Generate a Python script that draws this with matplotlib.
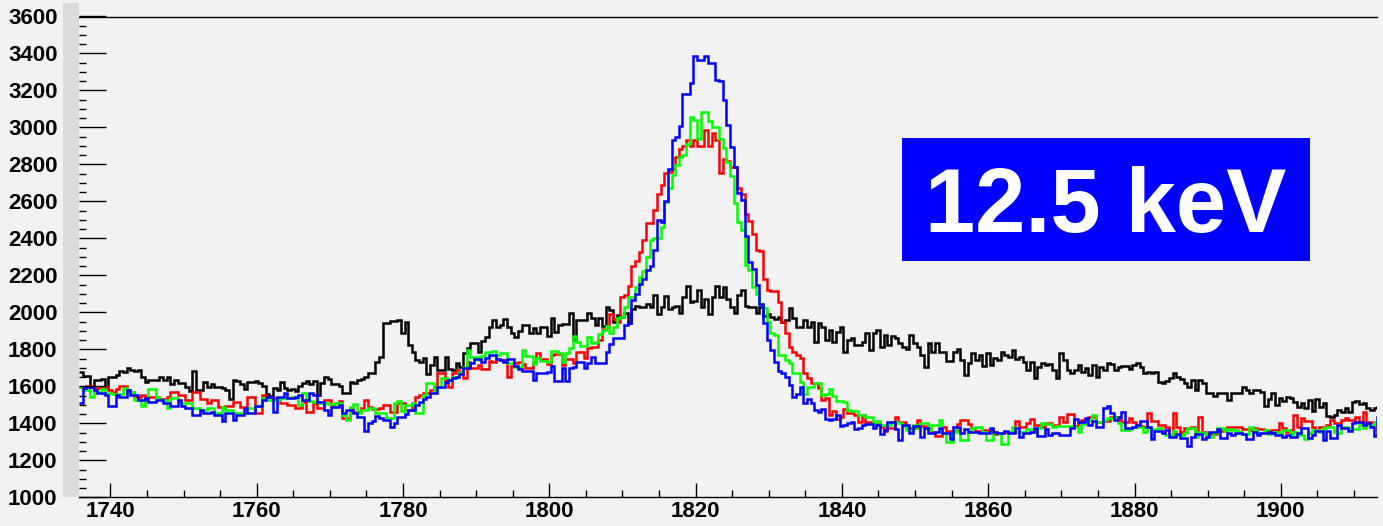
import numpy as np
import matplotlib
matplotlib.use("Agg")
import matplotlib.pyplot as plt
from matplotlib.patches import Rectangle

# ---------------- data ----------------
x_start = 1735.71
bin_width = 0.5
x_limits = (1735.71, 1913.15)
y_limits = (1000, 3600)
x_ticks = [1740, 1760, 1780, 1800, 1820, 1840, 1860, 1880, 1900]
y_ticks = [1000, 1200, 1400, 1600, 1800, 2000, 2200, 2400, 2600, 2800, 3000, 3200, 3400, 3600]
label_text = "12.5 keV"

black = [
    1679, 1656, 1656, 1598, 1634, 1634, 1640, 1594, 1648, 1648,
    1660, 1683, 1675, 1701, 1690, 1683, 1690, 1648, 1625, 1637,
    1634, 1634, 1648, 1634, 1650, 1612, 1634, 1616, 1616, 1594,
    1576, 1683, 1580, 1580, 1625, 1594, 1612, 1598, 1594, 1590,
    1580, 1531, 1634, 1630, 1612, 1585, 1625, 1625, 1630, 1616,
    1600, 1560, 1549, 1590, 1580, 1625, 1590, 1580, 1585, 1576,
    1600, 1616, 1630, 1610, 1630, 1553, 1616, 1648, 1638, 1612,
    1612, 1600, 1562, 1562, 1625, 1616, 1634, 1640, 1652, 1674,
    1674, 1733, 1760, 1940, 1940, 1951, 1951, 1958, 1886, 1949,
    1823, 1787, 1742, 1733, 1751, 1666, 1715, 1760, 1688, 1688,
    1760, 1692, 1688, 1728, 1702, 1782, 1805, 1832, 1832, 1787,
    1847, 1868, 1922, 1958, 1922, 1930, 1962, 1922, 1890, 1868,
    1901, 1931, 1931, 1886, 1918, 1890, 1922, 1922, 1872, 1967,
    1895, 1931, 1936, 1936, 1994, 1850, 1958, 1958, 1958, 1994,
    1967, 1931, 1967, 1926, 2030, 2012, 1949, 1985, 1976, 1994,
    1940, 2016, 2034, 2030, 2030, 2044, 2030, 2093, 1990, 2030,
    2088, 2016, 2030, 2034, 1994, 2084, 2142, 2057, 2062, 2120,
    2030, 2075, 1990, 2084, 2142, 2084, 2138, 2075, 2030, 1994,
    2093, 2120, 2034, 2030, 2030, 1994, 2030, 1980, 1990, 1976,
    1962, 1976, 1949, 1958, 2021, 1967, 1922, 1922, 1958, 1922,
    1949, 1841, 1940, 1922, 1850, 1904, 1841, 1895, 1922, 1787,
    1850, 1859, 1823, 1823, 1841, 1886, 1796, 1886, 1904, 1814,
    1877, 1823, 1872, 1859, 1832, 1811, 1800, 1877, 1832, 1814,
    1769, 1706, 1832, 1787, 1832, 1787, 1787, 1738, 1738, 1787,
    1800, 1742, 1661, 1724, 1778, 1742, 1769, 1710, 1778, 1715,
    1751, 1742, 1787, 1769, 1760, 1796, 1746, 1757, 1733, 1688,
    1733, 1643, 1706, 1724, 1715, 1720, 1688, 1643, 1782, 1742,
    1688, 1670, 1688, 1715, 1679, 1697, 1661, 1715, 1652, 1706,
    1688, 1728, 1720, 1688, 1706, 1710, 1710, 1692, 1715, 1728,
    1706, 1674, 1679, 1670, 1679, 1625, 1616, 1630, 1643, 1670,
    1648, 1638, 1620, 1598, 1634, 1580, 1634, 1616, 1566, 1562,
    1548, 1562, 1562, 1566, 1526, 1562, 1566, 1566, 1598, 1580,
    1562, 1580, 1580, 1571, 1494, 1530, 1562, 1499, 1535, 1522,
    1540, 1535, 1517, 1490, 1508, 1481, 1526, 1468, 1530, 1490,
    1508, 1439, 1432, 1445, 1472, 1463, 1481, 1463, 1517, 1522,
    1504, 1508, 1481, 1472, 1481, 1490,
]

red = [
    1594, 1594, 1602, 1602, 1589, 1589, 1594, 1594, 1580, 1570,
    1585, 1602, 1600, 1580, 1570, 1544, 1544, 1553, 1544, 1540,
    1544, 1544, 1530, 1530, 1544, 1571, 1571, 1553, 1553, 1526,
    1526, 1571, 1571, 1530, 1530, 1508, 1526, 1526, 1490, 1490,
    1493, 1493, 1517, 1517, 1490, 1490, 1540, 1540, 1454, 1454,
    1553, 1544, 1544, 1535, 1530, 1508, 1508, 1497, 1497, 1481,
    1481, 1517, 1463, 1463, 1508, 1481, 1481, 1526, 1526, 1499,
    1510, 1520, 1427, 1427, 1481, 1463, 1463, 1481, 1526, 1490,
    1475, 1475, 1485, 1499, 1499, 1463, 1463, 1508, 1508, 1472,
    1472, 1508, 1544, 1553, 1562, 1562, 1580, 1594, 1674, 1674,
    1634, 1594, 1674, 1688, 1680, 1643, 1733, 1697, 1697, 1715,
    1692, 1692, 1738, 1733, 1746, 1742, 1742, 1652, 1710, 1724,
    1733, 1720, 1697, 1697, 1733, 1783, 1747, 1747, 1720, 1769,
    1773, 1773, 1715, 1746, 1746, 1728, 1787, 1787, 1751, 1805,
    1814, 1814, 1850, 1908, 1922, 1990, 1962, 1949, 2084, 2093,
    2142, 2250, 2279, 2327, 2394, 2484, 2484, 2556, 2639, 2688,
    2755, 2760, 2778, 2841, 2886, 2899, 2931, 2899, 2931, 2899,
    2899, 2985, 2899, 2971, 2931, 2755, 2827, 2820, 2787, 2787,
    2670, 2639, 2531, 2495, 2426, 2337, 2333, 2178, 2120, 2117,
    2117, 2057, 1949, 1886, 1814, 1787, 1769, 1751, 1673, 1643,
    1616, 1616, 1589, 1526, 1535, 1445, 1468, 1421, 1436, 1475,
    1454, 1454, 1445, 1409, 1445, 1409, 1409, 1400, 1396, 1382,
    1360, 1373, 1373, 1436, 1409, 1409, 1382, 1373, 1373, 1418,
    1386, 1386, 1373, 1355, 1331, 1331, 1382, 1360, 1360, 1360,
    1396, 1418, 1418, 1396, 1373, 1360, 1360, 1364, 1364, 1364,
    1342, 1349, 1349, 1355, 1355, 1355, 1414, 1382, 1382, 1403,
    1421, 1391, 1391, 1382, 1400, 1400, 1391, 1391, 1436, 1409,
    1450, 1450, 1386, 1403, 1418, 1418, 1432, 1432, 1409, 1409,
    1414, 1414, 1436, 1436, 1421, 1409, 1409, 1427, 1409, 1385,
    1385, 1382, 1457, 1414, 1414, 1391, 1391, 1378, 1337, 1457,
    1378, 1355, 1373, 1373, 1378, 1342, 1432, 1355, 1342, 1342,
    1342, 1360, 1360, 1367, 1378, 1382, 1382, 1378, 1367, 1367,
    1364, 1373, 1367, 1367, 1364, 1355, 1364, 1364, 1403, 1373,
    1355, 1364, 1445, 1378, 1427, 1414, 1414, 1378, 1364, 1378,
    1378, 1391, 1418, 1400, 1400, 1418, 1427, 1418, 1418, 1432,
    1409, 1463, 1409, 1409, 1403, 1403,
]

green = [
    1594, 1580, 1580, 1544, 1571, 1571, 1584, 1562, 1562, 1558,
    1558, 1558, 1589, 1571, 1571, 1526, 1526, 1493, 1526, 1584,
    1584, 1540, 1526, 1526, 1481, 1535, 1535, 1526, 1511, 1511,
    1511, 1481, 1481, 1472, 1472, 1481, 1481, 1454, 1454, 1490,
    1472, 1472, 1454, 1454, 1454, 1454, 1481, 1481, 1493, 1493,
    1535, 1526, 1526, 1526, 1526, 1535, 1535, 1535, 1544, 1544,
    1500, 1562, 1530, 1522, 1517, 1517, 1508, 1508, 1504, 1504,
    1512, 1512, 1445, 1418, 1490, 1504, 1458, 1472, 1472, 1481,
    1481, 1454, 1458, 1458, 1427, 1427, 1508, 1522, 1468, 1499,
    1499, 1512, 1458, 1458, 1553, 1616, 1616, 1576, 1598, 1643,
    1643, 1634, 1652, 1652, 1680, 1702, 1796, 1760, 1760, 1745,
    1764, 1787, 1787, 1792, 1770, 1782, 1782, 1724, 1724, 1706,
    1702, 1796, 1764, 1764, 1720, 1751, 1738, 1738, 1733, 1790,
    1790, 1781, 1733, 1781, 1805, 1872, 1841, 1818, 1818, 1868,
    1832, 1841, 1882, 1904, 1926, 1890, 1922, 1967, 1976, 2030,
    2084, 2084, 2138, 2189, 2225, 2300, 2394, 2400, 2400, 2463,
    2598, 2675, 2742, 2796, 2841, 2850, 2913, 3057, 3043, 2940,
    3084, 3084, 3036, 3003, 3003, 2940, 2891, 2814, 2737, 2589,
    2490, 2445, 2255, 2228, 2138, 2102, 2048, 2021, 1949, 1886,
    1877, 1769, 1769, 1742, 1727, 1673, 1673, 1625, 1561, 1598,
    1598, 1616, 1619, 1553, 1561, 1583, 1547, 1522, 1522, 1517,
    1472, 1468, 1468, 1445, 1445, 1432, 1432, 1403, 1414, 1391,
    1391, 1391, 1409, 1409, 1403, 1386, 1364, 1364, 1391, 1373,
    1400, 1400, 1364, 1391, 1391, 1418, 1349, 1301, 1301, 1355,
    1373, 1310, 1310, 1355, 1373, 1382, 1382, 1355, 1310, 1310,
    1355, 1346, 1288, 1288, 1355, 1382, 1355, 1355, 1355, 1367,
    1367, 1355, 1373, 1400, 1396, 1396, 1382, 1386, 1386, 1386,
    1386, 1386, 1382, 1355, 1396, 1396, 1418, 1445, 1409, 1409,
    1418, 1427, 1427, 1436, 1400, 1364, 1364, 1367, 1382, 1378,
    1378, 1355, 1378, 1367, 1367, 1373, 1349, 1337, 1337, 1360,
    1337, 1337, 1349, 1373, 1373, 1328, 1355, 1346, 1324, 1324,
    1346, 1373, 1373, 1360, 1367, 1364, 1364, 1355, 1342, 1342,
    1378, 1364, 1349, 1349, 1364, 1342, 1355, 1355, 1342, 1364,
    1364, 1337, 1355, 1337, 1337, 1313, 1346, 1364, 1364, 1355,
    1373, 1378, 1378, 1355, 1349, 1382, 1382, 1373, 1367, 1367,
    1396, 1373, 1391, 1391, 1409, 1409,
]

blue = [
    1508, 1589, 1594, 1594, 1580, 1562, 1562, 1553, 1493, 1493,
    1553, 1544, 1544, 1580, 1553, 1553, 1526, 1526, 1535, 1517,
    1517, 1526, 1526, 1508, 1508, 1493, 1493, 1526, 1493, 1481,
    1481, 1445, 1445, 1472, 1454, 1454, 1463, 1445, 1445, 1414,
    1454, 1454, 1418, 1445, 1445, 1481, 1454, 1454, 1493, 1493,
    1526, 1540, 1540, 1463, 1544, 1544, 1562, 1535, 1535, 1544,
    1553, 1526, 1526, 1562, 1553, 1517, 1517, 1472, 1445, 1490,
    1490, 1499, 1458, 1472, 1472, 1458, 1436, 1436, 1360, 1400,
    1413, 1440, 1430, 1418, 1418, 1382, 1403, 1436, 1436, 1450,
    1472, 1472, 1499, 1517, 1530, 1544, 1562, 1562, 1594, 1594,
    1625, 1634, 1643, 1652, 1666, 1697, 1697, 1728, 1746, 1746,
    1733, 1751, 1770, 1769, 1746, 1742, 1733, 1746, 1746, 1710,
    1692, 1684, 1684, 1684, 1637, 1670, 1670, 1670, 1679, 1710,
    1630, 1630, 1697, 1630, 1697, 1706, 1733, 1733, 1697, 1724,
    1756, 1727, 1727, 1727, 1787, 1828, 1859, 1864, 1864, 1931,
    1944, 2066, 2102, 2156, 2178, 2228, 2250, 2337, 2499, 2490,
    2603, 2778, 2931, 2949, 3007, 3180, 3180, 3241, 3385, 3367,
    3367, 3385, 3351, 3349, 3255, 3252, 3147, 3012, 2895, 2787,
    2643, 2610, 2412, 2273, 2237, 2147, 2048, 1940, 1850, 1796,
    1733, 1684, 1673, 1652, 1607, 1543, 1561, 1594, 1508, 1529,
    1508, 1472, 1463, 1475, 1426, 1417, 1426, 1445, 1385, 1390,
    1403, 1408, 1372, 1373, 1391, 1396, 1396, 1373, 1391, 1342,
    1364, 1409, 1409, 1367, 1310, 1391, 1391, 1346, 1386, 1386,
    1328, 1373, 1349, 1349, 1355, 1373, 1349, 1349, 1313, 1382,
    1382, 1349, 1367, 1355, 1355, 1355, 1349, 1346, 1346, 1373,
    1355, 1346, 1346, 1360, 1349, 1349, 1373, 1328, 1346, 1346,
    1355, 1373, 1331, 1331, 1367, 1337, 1346, 1346, 1337, 1337,
    1337, 1373, 1421, 1409, 1409, 1427, 1391, 1414, 1382, 1382,
    1481, 1493, 1454, 1418, 1432, 1463, 1373, 1373, 1378, 1391,
    1414, 1414, 1378, 1313, 1360, 1360, 1349, 1364, 1328, 1328,
    1342, 1319, 1319, 1277, 1328, 1342, 1342, 1313, 1328, 1355,
    1355, 1367, 1319, 1319, 1346, 1337, 1349, 1349, 1342, 1313,
    1313, 1355, 1337, 1346, 1346, 1355, 1349, 1337, 1337, 1324,
    1337, 1328, 1328, 1346, 1373, 1373, 1319, 1337, 1360, 1360,
    1310, 1360, 1319, 1319, 1391, 1373, 1373, 1360, 1400, 1409,
    1409, 1391, 1403, 1382, 1331, 1436,
]

series = [(black, "#000000"), (red, "#ff0000"), (green, "#00ff00"), (blue, "#0000ff")]

# ---------------- figure ----------------
W, H = 1383, 526
BG = "#f2f2f2"
fig = plt.figure(figsize=(W / 100, H / 100), dpi=100, facecolor=BG)

ax_left, ax_right, ax_top, ax_bottom = 79, 1377, 16.5, 497.3
ax = fig.add_axes([ax_left / W, 1 - ax_bottom / H,
                   (ax_right - ax_left) / W, (ax_bottom - ax_top) / H])
ax.set_facecolor(BG)

# grey 3D strip left of the frame
fig.patches.append(Rectangle((63 / W, 1 - ax_bottom / H), (ax_left - 63) / W,
                             (ax_bottom - 3) / H, transform=fig.transFigure,
                             facecolor="#dcdcdc", edgecolor="none", zorder=0))

for vals, col in series:
    edges = x_start + bin_width * np.arange(len(vals) + 1)
    ax.stairs(vals, edges, color=col, lw=1.8, baseline=None)

ax.set_xlim(*x_limits)
ax.set_ylim(*y_limits)

for s in ("left", "right"):
    ax.spines[s].set_visible(False)
for s in ("top", "bottom"):
    ax.spines[s].set_color("black")
    ax.spines[s].set_linewidth(1.0)

tick_font = dict(family=["Liberation Sans", "DejaVu Sans"], weight="bold", size=16)
ax.set_xticks(x_ticks)
ax.set_xticklabels([str(t) for t in x_ticks], **tick_font)
ax.set_yticks(y_ticks)
ax.set_yticklabels([str(t) for t in y_ticks], **tick_font)
ax.xaxis.set_minor_locator(matplotlib.ticker.MultipleLocator(5))
ax.yaxis.set_minor_locator(matplotlib.ticker.MultipleLocator(50))

ax.tick_params(axis="y", which="major", direction="in", length=19.5, width=1.0, pad=15.5, left=True, right=False)
ax.tick_params(axis="y", which="minor", direction="in", length=5, width=1.0, left=True, right=False)
ax.tick_params(axis="x", which="major", direction="in", length=10, width=1.0, pad=3, bottom=True, top=False)
ax.tick_params(axis="x", which="minor", direction="in", length=5, width=1.0, bottom=True, top=False)

# label box
bx0, by0, bx1, by1 = 902, 138, 1310, 261
fig.patches.append(Rectangle((bx0 / W, 1 - by1 / H), (bx1 - bx0) / W, (by1 - by0) / H,
                             transform=fig.transFigure, facecolor="#0000ff",
                             edgecolor="none", zorder=5))
fig.text(1106 / W, 1 - 232 / H, label_text, color="white", ha="center", va="baseline",
         fontsize=65, fontweight="bold", family=["Liberation Sans", "DejaVu Sans"], zorder=6)

fig.savefig("out.png", dpi=100, facecolor=BG)
